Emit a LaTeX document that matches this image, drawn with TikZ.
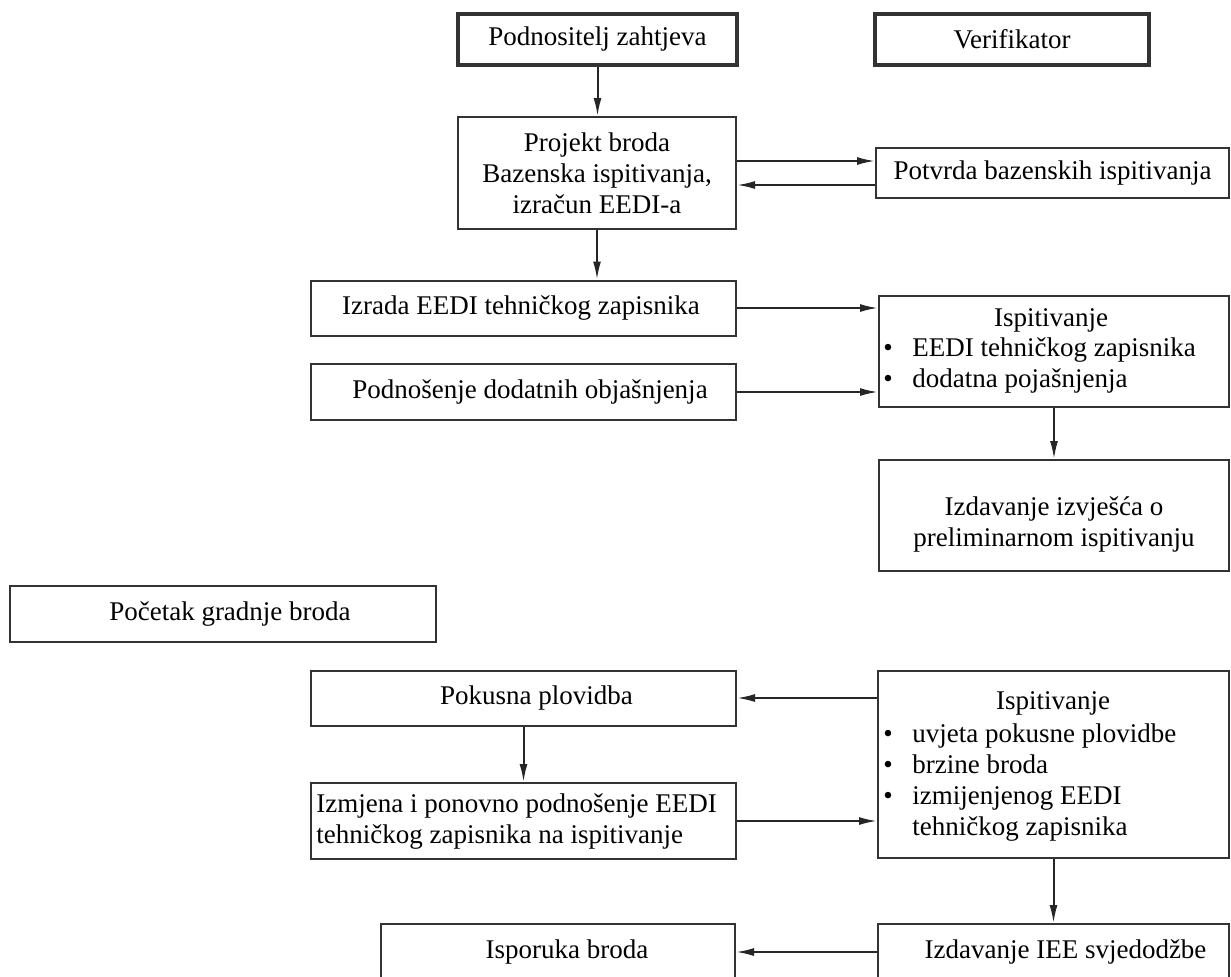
\documentclass[tikz,border=0pt]{standalone}
\usepackage{fontspec}
\setmainfont{Liberation Serif}
\usetikzlibrary{arrows.meta}
\newcommand\dfont{\fontsize{13.5pt}{15.5pt}\selectfont}
\tikzset{
  box/.style={draw=black!80, line width=1pt, inner sep=0pt, font=\dfont, align=center},
  hdr/.style={box, line width=2pt},
  txt/.style={inner sep=0pt, font=\dfont, align=center},
  arr/.style={draw=black!85, line width=1pt, -{Latex[length=9pt,width=4pt]}}
}
\begin{document}
\begin{tikzpicture}[x=0.5pt,y=-0.5pt]
\useasboundingbox (0,0) rectangle (1231,976);
\clip (0,0) rectangle (1231,976);
\fill[white] (0,0) rectangle (1231,976);

% header boxes
\node[hdr, minimum width=139.5pt, minimum height=25.5pt] (podn) at (597.5,39.5) {Podnositelj zahtjeva};
\node[hdr, minimum width=137pt, minimum height=25.5pt] (verif) at (1012,39.5) {Verifikator};

% upper part
\node[box, minimum width=139pt, minimum height=56pt] (proj) at (597,173) {Projekt broda\\Bazenska ispitivanja,\\izračun EEDI-a};
\node[box, minimum width=176.5pt, minimum height=25pt] (potvrda) at (1052.5,173) {Potvrda bazenskih ispitivanja};
\node[box, minimum width=212.5pt, minimum height=27.5pt] (izrada) at (523.5,308) {\hspace*{-2.5pt}Izrada EEDI tehničkog zapisnika};
\node[box, minimum width=212.5pt, minimum height=28pt] (podnos) at (523.5,392) {\hspace*{6.5pt}Podnošenje dodatnih objašnjenja};
\node[box, minimum width=175pt, minimum height=55.5pt] (isp1) at (1054,351.5) {};
\node[txt] (isp1t) at (1051,320) {Ispitivanje};
\node[txt, anchor=west] (isp1l) at (883,366) {\begin{tabular}{@{}l@{\hspace{9.75pt}}l@{}}\textbullet & EEDI tehničkog zapisnika\\ \textbullet & dodatna pojašnjenja\end{tabular}};
\node[box, minimum width=175pt, minimum height=55.5pt] (izvj) at (1054,515.5) {};
\node[txt] (izvjt) at (1054,524) {Izdavanje izvješća o\\preliminarnom ispitivanju};

% lower part
\node[box, minimum width=213pt, minimum height=28pt] (pocetak) at (223,614) {\hspace*{7pt}Početak gradnje broda};
\node[box, minimum width=212.5pt, minimum height=27.5pt] (pokusna) at (523.5,698) {\hspace*{13pt}Pokusna plovidba};
\node[box, minimum width=212.5pt, minimum height=38pt] (izmjena) at (523.5,821) {};
\node[txt, anchor=west, align=left] (izmjenat) at (316,822) {Izmjena i ponovno podnošenje EEDI\\tehničkog zapisnika na ispitivanje};
\node[box, minimum width=175.5pt, minimum height=93.5pt] (isp2) at (1053.5,764.5) {};
\node[txt] (isp2t) at (1053,703) {Ispitivanje};
\node[txt, anchor=west] (isp2l) at (883,782.5) {\begin{tabular}{@{}l@{\hspace{9.75pt}}l@{}}\textbullet & uvjeta pokusne plovidbe\\ \textbullet & brzine broda\\ \textbullet & izmijenjenog EEDI\\ & tehničkog zapisnika\end{tabular}};
\node[box, minimum width=175.5pt, minimum height=28pt] (iee) at (1053.5,952) {\hspace*{12pt}Izdavanje IEE svjedodžbe};
\node[box, minimum width=177pt, minimum height=28pt] (isporuka) at (558,952) {\hspace*{9pt}Isporuka broda};

% connectors
\draw[arr] (podn.south) -- (podn.south |- proj.north);
\draw[arr] ([yshift=6pt]proj.east) -- ([yshift=6pt]potvrda.west);
\draw[arr] ([yshift=-6pt]potvrda.west) -- ([yshift=-6pt]proj.east);
\draw[arr] (proj.south) -- (proj.south |- izrada.north);
\draw[arr] (izrada.east) -- (izrada.east -| isp1.west);
\draw[arr] (podnos.east) -- (podnos.east -| isp1.west);
\draw[arr] (isp1.south) -- (izvj.north);
\draw[arr] (pokusna.east -| isp2.west) -- (pokusna.east);
\draw[arr] (pokusna.south) -- (izmjena.north);
\draw[arr] (izmjena.east) -- (izmjena.east -| isp2.west);
\draw[arr] (isp2.south) -- (iee.north);
\draw[arr] (isporuka.east -| iee.west) -- (isporuka.east);
\end{tikzpicture}
\end{document}
